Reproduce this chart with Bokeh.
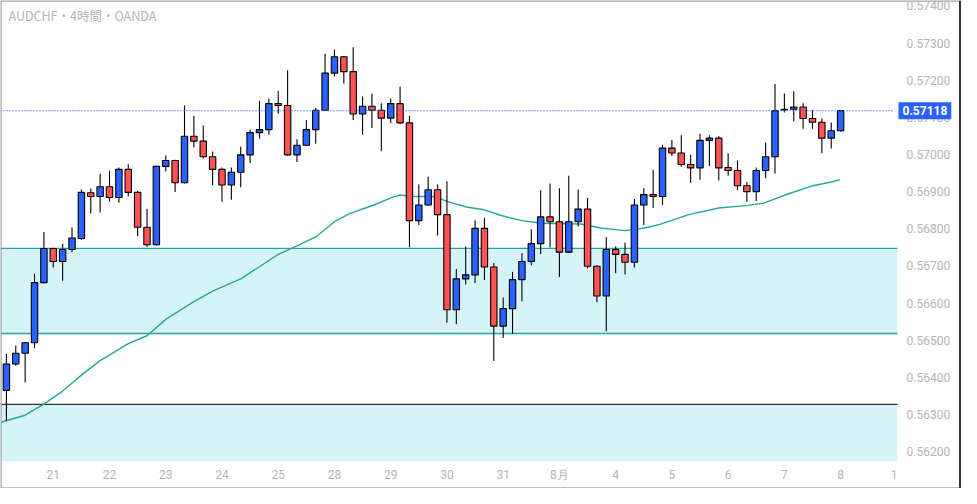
from bokeh.plotting import figure
from bokeh.models import Range1d, FixedTicker, Label, PrintfTickFormatter, ColumnDataSource
from bokeh.embed import file_html
from bokeh.resources import INLINE

# ---- data (AUDCHF 4h, OANDA) ----
opens = [0.56365, 0.56436, 0.56465, 0.56493, 0.56655, 0.56747, 0.56712, 0.56744, 0.56774, 0.56897,
         0.56887, 0.56913, 0.56884, 0.56960, 0.56898, 0.56804, 0.56757, 0.56968, 0.56984, 0.56924,
         0.57049, 0.57036, 0.56994, 0.56960, 0.56918, 0.56952, 0.56999, 0.57059, 0.57067, 0.57137,
         0.57132, 0.56999, 0.57025, 0.57067, 0.57119, 0.57219, 0.57263, 0.57223, 0.57109, 0.57130,
         0.57119, 0.57098, 0.57137, 0.57085, 0.56822, 0.56864, 0.56905, 0.56838, 0.56582, 0.56665,
         0.56676, 0.56801, 0.56697, 0.56538, 0.56585, 0.56663, 0.56712, 0.56760, 0.56832, 0.56819,
         0.56737, 0.56819, 0.56853, 0.56699, 0.56619, 0.56744, 0.56731, 0.56710, 0.56864, 0.56892,
         0.56887, 0.57017, 0.57004, 0.56973, 0.56964, 0.57038, 0.57044, 0.56965, 0.56957, 0.56916,
         0.56900, 0.56957, 0.56994, 0.57120, 0.57122, 0.57128, 0.57097, 0.57087, 0.57044, 0.57064]
highs = [0.56463, 0.56486, 0.56495, 0.56679, 0.56791, 0.56749, 0.56760, 0.56804, 0.56906, 0.56909,
         0.56948, 0.56956, 0.56965, 0.56974, 0.56902, 0.56854, 0.56970, 0.56997, 0.56986, 0.57132,
         0.57104, 0.57078, 0.57008, 0.56965, 0.56965, 0.57021, 0.57067, 0.57145, 0.57151, 0.57171,
         0.57227, 0.57041, 0.57093, 0.57125, 0.57271, 0.57282, 0.57265, 0.57289, 0.57156, 0.57164,
         0.57138, 0.57151, 0.57183, 0.57104, 0.56919, 0.56940, 0.56919, 0.56928, 0.56692, 0.56752,
         0.56823, 0.56830, 0.56708, 0.56615, 0.56684, 0.56734, 0.56799, 0.56904, 0.56922, 0.56909,
         0.56943, 0.56906, 0.56883, 0.56702, 0.56778, 0.56752, 0.56763, 0.56880, 0.56909, 0.56959,
         0.57026, 0.57039, 0.57052, 0.56999, 0.57056, 0.57052, 0.57050, 0.57003, 0.56984, 0.56926,
         0.56965, 0.57032, 0.57190, 0.57164, 0.57170, 0.57138, 0.57119, 0.57097, 0.57086, 0.57120]
lows = [0.56283, 0.56431, 0.56386, 0.56478, 0.56653, 0.56696, 0.56660, 0.56737, 0.56770, 0.56841,
        0.56844, 0.56873, 0.56870, 0.56887, 0.56780, 0.56751, 0.56755, 0.56954, 0.56899, 0.56922,
        0.57019, 0.56989, 0.56917, 0.56873, 0.56878, 0.56912, 0.56977, 0.57043, 0.57053, 0.57110,
        0.56997, 0.56980, 0.57023, 0.57029, 0.57117, 0.57210, 0.57191, 0.57093, 0.57053, 0.57071,
        0.57009, 0.57084, 0.57083, 0.56750, 0.56810, 0.56862, 0.56782, 0.56547, 0.56543, 0.56650,
        0.56654, 0.56662, 0.56444, 0.56506, 0.56517, 0.56605, 0.56702, 0.56732, 0.56750, 0.56670,
        0.56735, 0.56806, 0.56693, 0.56602, 0.56524, 0.56680, 0.56677, 0.56696, 0.56810, 0.56856,
        0.56864, 0.56996, 0.56967, 0.56924, 0.56932, 0.56969, 0.56930, 0.56943, 0.56904, 0.56873,
        0.56875, 0.56936, 0.56949, 0.57113, 0.57089, 0.57069, 0.57069, 0.57003, 0.57016, 0.57061]
closes = [0.56436, 0.56465, 0.56493, 0.56655, 0.56747, 0.56712, 0.56744, 0.56775, 0.56898, 0.56887,
          0.56913, 0.56884, 0.56960, 0.56898, 0.56804, 0.56757, 0.56968, 0.56984, 0.56924, 0.57049,
          0.57036, 0.56994, 0.56960, 0.56918, 0.56952, 0.56999, 0.57059, 0.57067, 0.57137, 0.57132,
          0.56999, 0.57025, 0.57067, 0.57119, 0.57219, 0.57263, 0.57223, 0.57109, 0.57130, 0.57119,
          0.57098, 0.57137, 0.57085, 0.56822, 0.56864, 0.56905, 0.56838, 0.56582, 0.56665, 0.56676,
          0.56801, 0.56697, 0.56538, 0.56585, 0.56663, 0.56712, 0.56760, 0.56832, 0.56819, 0.56737,
          0.56819, 0.56853, 0.56699, 0.56619, 0.56744, 0.56731, 0.56710, 0.56864, 0.56892, 0.56887,
          0.57017, 0.57004, 0.56973, 0.56964, 0.57038, 0.57044, 0.56964, 0.56957, 0.56916, 0.56900,
          0.56957, 0.56994, 0.57118, 0.57122, 0.57128, 0.57097, 0.57087, 0.57044, 0.57064, 0.57118]

# moving average line (bar index, price)
ma_x = [-0.6, 2, 4, 6, 8, 10, 13, 15, 17, 20, 22, 25, 29, 31, 33, 35, 36.6, 39.2, 41.3, 42,
        43.4, 45.5, 47.6, 49.2, 50.8, 52.9, 55, 57.1, 61.3, 63.4, 66, 68.1, 69.7, 72.8, 76,
        79.1, 80.8, 83.3, 85.9, 88, 88.9]
ma_y = [0.56279, 0.56298, 0.56328, 0.56363, 0.56406, 0.56445, 0.56491, 0.56512, 0.56556, 0.56604,
        0.56632, 0.56665, 0.56731, 0.56754, 0.56778, 0.56819, 0.56841, 0.56864, 0.56886, 0.56891,
        0.56887, 0.56887, 0.56869, 0.56858, 0.56852, 0.56835, 0.56822, 0.56815, 0.56813, 0.56802,
        0.56795, 0.56802, 0.56812, 0.56838, 0.56856, 0.56863, 0.56869, 0.56893, 0.56915, 0.56926,
        0.56932]

# horizontal zones
zone_upper = [0.56518, 0.56747]
zone_lower_top = 0.56327
last_price = 0.57118

# visible bar / price window of the chart pane
x_view = [-0.63, 95.07]
y_view = [0.561734, 0.574146]

# axis ticks
x_tick_pos = [5, 11, 17, 23, 29, 35, 41, 47, 53, 59, 65, 71, 77, 83, 89, 94.7]
x_tick_labels = ["21", "22", "23", "24", "25", "28", "29", "30", "31", "8月",
                 "4", "5", "6", "7", "8", "1"]
y_ticks = [0.562, 0.563, 0.564, 0.565, 0.566, 0.567, 0.568, 0.569,
           0.570, 0.571, 0.572, 0.573, 0.574]

title_text = "AUDCHF・4時間・OANDA"

UP = "#2962ff"
DOWN = "#ff5252"
TEAL = "#22a699"
ZONE = "#d6f4f7"
GRAY_TXT = "#b4b4b4"

W, H = 961, 488
PANE_W, PANE_H = 897, 461   # chart pane; the rest of the canvas holds the price / time scales

# the frame spans the whole canvas; the axes sit at the pane edges (fixed_location)
x_per_px = (x_view[1] - x_view[0]) / PANE_W
y_per_px = (y_view[1] - y_view[0]) / PANE_H
x_end = x_view[0] + W * x_per_px
y_start = y_view[1] - H * y_per_px

p = figure(width=W, height=H, output_backend="svg", toolbar_location=None,
           x_range=Range1d(x_view[0], x_end), y_range=Range1d(y_start, y_view[1]),
           y_axis_location="right", min_border=0,
           background_fill_color="white", border_fill_color="white")
p.outline_line_color = None
p.grid.visible = False

# zones (limited to the chart pane)
p.quad(left=x_view[0], right=x_view[1], bottom=zone_upper[0], top=zone_upper[1],
       fill_color=ZONE, line_color=None)
p.quad(left=x_view[0], right=x_view[1], bottom=y_view[0], top=zone_lower_top,
       fill_color=ZONE, line_color=None)
p.segment(x0=[x_view[0]] * 2, x1=[x_view[1]] * 2, y0=zone_upper, y1=zone_upper,
          line_color=TEAL, line_width=1.3)
p.segment(x0=[x_view[0]], x1=[x_view[1]], y0=[zone_lower_top], y1=[zone_lower_top],
          line_color="#333333", line_width=1.2)

# moving average
p.line(ma_x, ma_y, line_color="#26a69a", line_width=1.4)

# candles
idx = list(range(len(opens)))
tops = [max(o, c) for o, c in zip(opens, closes)]
bots = [min(o, c) for o, c in zip(opens, closes)]
cols = [UP if c >= o else DOWN for o, c in zip(opens, closes)]
src = ColumnDataSource(dict(x=idx, h=highs, l=lows, t=tops, b=bots, c=cols))
p.segment(x0="x", x1="x", y0="l", y1="h", source=src, line_color="black", line_width=1.1)
p.vbar(x="x", width=0.68, top="t", bottom="b", source=src,
       fill_color="c", line_color="black", line_width=1.1)

# last price dotted line
p.segment(x0=[x_view[0]], x1=[x_view[1] - 0.4], y0=[last_price], y1=[last_price],
          line_color=UP, line_dash="1 2", line_width=1.1)

# widget border: light grey left / top / bottom, dark right edge
p.segment(x0=[x_view[0], x_view[0], x_view[0]], x1=[x_view[0], x_end, x_end],
          y0=[y_start, y_view[1], y_start], y1=[y_view[1], y_view[1], y_start],
          line_color="#a8a8a8", line_width=2.5)
p.segment(x0=[x_end], x1=[x_end], y0=[y_start], y1=[y_view[1]],
          line_color="#333333", line_width=5)

# axes placed at the pane edges
p.yaxis.fixed_location = x_view[1]
p.xaxis.fixed_location = y_view[0]
p.yaxis.ticker = FixedTicker(ticks=y_ticks)
p.yaxis.formatter = PrintfTickFormatter(format="%.5f")
p.xaxis.ticker = FixedTicker(ticks=x_tick_pos)
p.xaxis.major_label_overrides = {k: v for k, v in zip(x_tick_pos, x_tick_labels)}
for ax in (p.xaxis, p.yaxis):
    ax.axis_line_color = None
    ax.major_tick_line_color = None
    ax.minor_tick_line_color = None
    ax.major_tick_out = 0
    ax.major_tick_in = 0
    ax.minor_tick_out = 0
    ax.major_label_text_color = GRAY_TXT
    ax.major_label_text_font_size = "12px"
    ax.major_label_text_font = "Roboto"
p.yaxis.major_label_standoff = 9
p.xaxis.major_label_standoff = 6

# price tag
p.add_layout(Label(x=x_view[1], y=last_price, x_offset=1, x_units="data", y_units="data",
                   text=f"{last_price:.5f}", text_color="white", text_font_style="bold",
                   text_font="Roboto", text_font_size="12px", text_baseline="middle",
                   background_fill_color=UP, padding=4))

# title
p.add_layout(Label(x=8, y=H - 15, x_units="screen", y_units="screen",
                   text=title_text, text_color=GRAY_TXT, text_font="Noto Sans CJK JP",
                   text_font_size="12.5px", text_baseline="middle"))

open("out.html", "w").write(file_html(p, INLINE))
